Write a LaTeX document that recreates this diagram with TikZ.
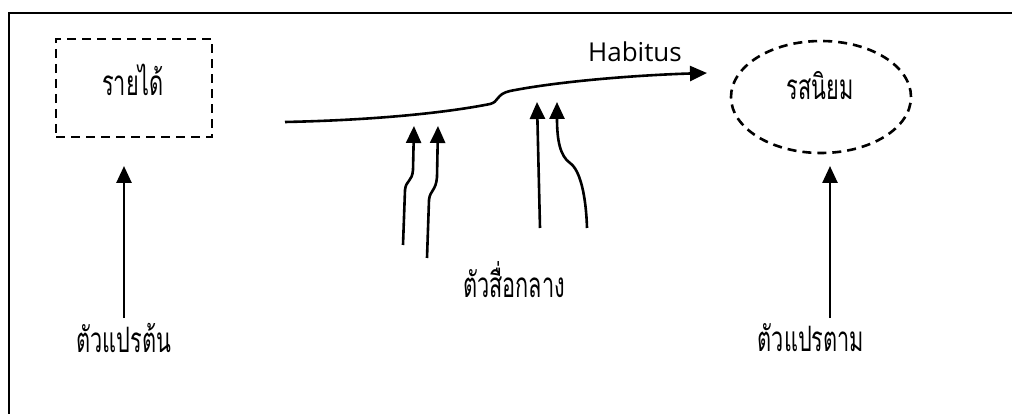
\documentclass[tikz,border=0pt]{standalone}
\usepackage{fontspec}
\setmainfont{Open Sans}
\newfontfamily\thai[Script=Thai,FakeStretch=0.62]{Loma}
\usetikzlibrary{shapes.geometric,arrows.meta}
\begin{document}
\begin{tikzpicture}[x=1pt,y=-1pt,
  line/.style={line width=2.6pt},
  arr/.style={line, -{Triangle[length=17pt,width=15pt]}},
  dashline/.style={line width=2.6pt, dash pattern=on 9pt off 6pt},
  thailabel/.style={font=\thai\fontsize{35}{40}\selectfont, inner sep=0pt}]
\useasboundingbox (0,0) rectangle (1012,414);
\begin{scope}
\clip (0,0) rectangle (1012,414);
\draw[line width=2pt] (9,13) rectangle (1030,440);
\end{scope}
% nodes
\node[dashline, draw, minimum width=156pt, minimum height=98pt, inner sep=0pt] (inc) at (134,88) {};
\node[thailabel] at (133,80) {รายได้};
\node[dashline, draw, ellipse, minimum width=180pt, minimum height=112pt, inner sep=0pt] (taste) at (821,97) {};
\node[thailabel] at (820,86) {รสนิยม};
\node[thailabel] (iv) at (124,338) {ตัวแปรต้น};
\node[thailabel] (dv) at (811,338) {ตัวแปรตาม};
\node[thailabel] (med) at (514,280) {ตัวสื่อกลาง};
\node[font=\fontsize{26}{30}\selectfont, inner sep=0pt] (hab) at (635,52) {Habitus};
% coordinates
\coordinate (ivtop) at (124,318);
\coordinate (inctip) at (124,166);
\coordinate (dvtop) at (830,318);
\coordinate (tastetip) at (830,166);
\coordinate (hs) at (285,122);
\coordinate (he) at (707,73);
\coordinate (m1) at (403,245);
\coordinate (m1t) at (414,126);
\coordinate (m2) at (427,258);
\coordinate (m2t) at (438,126);
\coordinate (m3) at (540,228);
\coordinate (m3t) at (537,102);
\coordinate (m4) at (587,228);
\coordinate (m4t) at (557,102);
% connectors
\draw[arr] (ivtop) -- (inctip);
\draw[arr] (dvtop) -- (tastetip);
\draw[arr] (hs) .. controls (380,120) and (450,112) .. (490,104)
   .. controls (499,102) and (496,94) .. (510,91)
   .. controls (560,81) and (640,75) .. (he);
\draw[arr] (m1) -- (405,190) .. controls (406,180) and (412,182) .. (413,170) -- (m1t);
\draw[arr] (m2) -- (429,200) .. controls (430,190) and (436,191) .. (437,177) -- (m2t);
\draw[arr] (m3) -- (m3t);
\draw[arr] (m4) .. controls (586,195) and (580,170) .. (570,163)
   .. controls (560,156) and (557,140) .. (m4t);
\end{tikzpicture}
\end{document}
